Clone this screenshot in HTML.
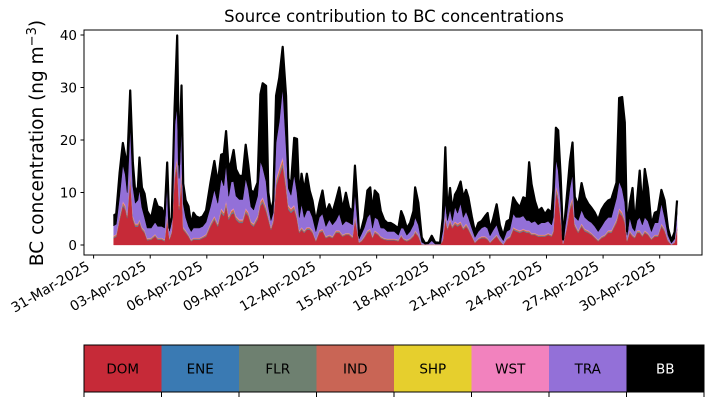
<!DOCTYPE html>
<html><head><meta charset="utf-8">
<style>
html,body{margin:0;padding:0;background:#fff;}
svg{display:block;font-family:"DejaVu Sans","Liberation Sans",sans-serif;}
</style></head>
<body>
<svg id="chart" width="714" height="402" viewBox="0 0 714 402" xmlns="http://www.w3.org/2000/svg">
<text x="394" y="22" text-anchor="middle" font-size="16.5" fill="#000">Source contribution to BC concentrations</text>
<text transform="translate(43,143) rotate(-90)" text-anchor="middle" font-size="18.5" fill="#000">BC concentration (ng m<tspan dy="-7" font-size="13">−3</tspan><tspan dy="7">)</tspan></text>
<g id="areas"></g>
<g id="axes"></g>
<g id="legend"></g>
</svg>
<script>
const days = [1.06,1.20,1.38,1.55,1.68,1.78,1.94,2.08,2.21,2.35,2.43,2.56,2.70,2.84,3.05,3.26,3.40,3.61,3.76,3.90,4.02,4.14,4.29,4.43,4.53,4.66,4.75,4.88,5.03,5.17,5.29,5.43,5.61,5.78,5.96,6.19,6.40,6.58,6.76,6.90,7.02,7.16,7.29,7.42,7.55,7.72,7.90,8.06,8.20,8.34,8.48,8.69,8.84,8.96,9.14,9.26,9.40,9.52,9.67,9.84,10.02,10.20,10.32,10.46,10.63,10.78,10.90,11.02,11.16,11.30,11.45,11.60,11.78,11.96,12.13,12.31,12.49,12.66,12.84,13.02,13.19,13.37,13.54,13.72,13.85,13.95,14.07,14.20,14.34,14.51,14.66,14.78,14.90,15.08,15.22,15.40,15.57,15.75,15.93,
16.15,16.30,16.42,16.60,16.77,16.95,17.04,17.21,17.39,17.57,17.74,17.92,18.10,18.36,18.50,18.64,18.75,18.89,19.01,19.15,19.29,19.45,19.59,19.74,19.86,20.04,20.21,20.39,20.56,20.74,20.88,21.01,21.18,21.36,21.53,21.71,21.89,22.06,22.24,22.38,22.59,22.77,22.95,23.08,23.21,23.39,23.56,23.74,23.92,24.09,24.27,24.36,24.50,24.62,24.75,24.88,25.06,25.24,25.38,25.50,25.68,25.86,26.03,26.21,26.39,26.56,26.74,26.92,27.09,27.27,27.44,27.71,27.85,28.01,28.15,28.27,28.41,28.56,28.68,28.80,28.94,29.08,29.21,29.38,29.56,29.74,29.91,30.09,30.26,30.44,30.62,30.79,30.92];
const dom = [1.3,1.6,4.8,7.4,6.7,5.1,12.5,4.8,3.5,3.5,4.2,2.9,2.3,0.9,1.0,1.6,1.0,1.0,0.7,4.8,1.0,2.3,12.5,15.0,6.7,13.1,2.9,2.3,1.6,0.7,1.0,1.0,1.0,1.3,1.6,3.5,4.8,3.5,6.1,5.5,7.4,4.8,5.8,6.1,4.8,4.2,4.2,6.1,5.5,3.9,3.5,4.8,7.4,8.0,6.4,4.8,2.9,4.2,11.2,13.1,15.0,10.5,6.7,6.1,6.7,4.8,2.3,2.9,2.3,2.9,2.9,2.3,0.7,2.3,2.6,1.3,1.6,1.3,2.3,2.3,1.6,1.9,1.9,1.3,4.8,2.9,0.4,0.7,1.3,2.3,2.6,1.3,2.3,1.9,1.3,1.0,0.9,0.9,0.9,
0.7,1.6,1.0,0.7,1.0,1.6,2.3,1.6,0.05,0.05,0.05,0.05,0.05,0.05,0.7,4.8,2.9,4.2,3.2,3.9,3.5,3.9,2.9,3.5,2.9,1.6,0.4,1.0,1.3,1.3,1.0,0.4,1.0,1.6,0.7,0.05,1.0,1.3,2.9,2.6,2.3,2.6,2.3,2.3,1.9,1.9,1.6,1.6,1.6,1.9,1.6,2.3,9.9,8.6,4.8,0.2,2.9,6.7,8.0,3.5,2.3,3.5,2.6,2.3,1.9,1.3,0.7,1.3,1.6,2.3,2.3,4.2,6.1,5.5,4.2,0.7,2.3,1.6,1.3,2.3,2.3,1.6,2.3,1.9,1.0,1.6,1.6,3.5,2.6,0.7,0.05,0.4,2.9];
const tra = [1.9,1.9,3.8,7.0,5.8,4.2,8.9,5.7,3.9,4.5,5.7,3.8,2.5,2.0,1.9,2.3,2.2,2.2,2.2,6.4,1.3,1.9,8.9,9.6,5.1,8.3,4.5,2.5,1.6,1.6,1.9,1.9,1.9,1.9,2.3,3.2,5.1,3.9,5.7,5.0,7.0,3.8,5.4,5.1,3.8,3.8,3.8,5.7,4.4,2.8,2.6,3.8,7.6,5.7,4.8,1.9,1.3,1.3,7.0,8.9,13.3,7.1,3.2,2.5,5.8,4.5,2.5,4.5,2.5,3.2,3.2,2.5,1.6,2.5,2.9,1.9,2.9,2.2,1.9,3.2,1.9,2.3,2.0,2.2,4.5,2.6,0.6,1.2,1.6,2.5,2.9,1.6,2.5,2.6,1.6,1.9,1.4,1.4,1.4,
0.9,1.3,1.9,0.9,1.3,1.9,2.5,1.9,0.4,0.1,0.1,0.7,0.1,0.1,1.6,2.6,1.3,1.9,1.0,2.8,2.0,3.5,1.9,2.3,1.9,1.3,0.9,1.3,1.6,1.9,1.9,1.2,1.6,1.9,0.9,0.7,1.3,1.3,2.6,2.2,2.5,2.5,1.9,1.9,2.0,2.3,1.9,2.3,2.3,2.3,1.9,2.5,5.1,4.5,2.6,0.5,1.9,3.2,4.5,1.3,1.9,2.6,2.2,1.9,2.0,1.9,1.6,1.9,2.6,2.5,2.5,4.1,5.1,4.4,3.2,0.9,2.5,1.3,1.0,1.9,2.5,1.9,2.5,2.3,1.3,2.3,2.3,3.9,2.2,0.9,0.3,0.6,2.6];
const bb = [1.9,2.0,4.5,4.1,3.5,5.1,6.7,4.5,1.9,2.5,6.1,3.8,4.5,3.2,1.9,4.4,3.8,3.5,2.2,3.8,0.6,0.6,3.2,13.7,2.6,7.6,3.8,3.2,3.8,1.2,2.9,2.2,1.9,1.9,2.2,4.5,5.4,3.8,4.5,6.1,6.3,5.1,3.8,6.0,5.1,4.5,4.5,6.4,4.5,3.2,3.2,2.6,12.7,16.0,18.2,2.6,1.6,2.2,8.9,8.3,7.7,9.5,1.9,1.9,7.0,10.2,3.8,5.7,5.1,7.0,3.8,3.2,1.9,2.6,4.4,2.6,2.9,2.3,3.8,5.0,2.9,5.4,2.8,2.6,5.1,3.8,0.6,1.0,1.9,5.1,5.0,3.2,5.1,4.8,3.2,1.6,1.6,1.6,1.2,
1.3,3.2,2.2,1.3,1.6,2.6,5.7,4.2,0.9,0.1,0.3,0.9,0.3,0.2,2.5,10.5,1.3,4.1,1.9,2.3,4.4,4.1,3.8,4.1,3.8,2.2,1.0,1.6,1.3,1.9,2.9,1.3,2.2,3.9,1.9,0.9,1.9,1.9,3.1,2.9,1.9,3.5,4.1,11.1,7.3,3.8,2.6,2.8,1.6,2.2,2.3,5.1,6.0,7.6,5.1,0.3,3.2,5.1,6.0,3.8,2.8,5.1,3.8,3.2,2.8,2.6,2.2,3.2,3.2,3.2,3.5,2.9,15.9,17.5,15.3,0.7,2.6,7.6,1.2,3.8,8.9,3.2,9.2,6.3,1.2,1.9,2.2,2.5,3.2,1.3,0.4,1.3,2.5];
const ene = [0.08,0.08,0.12,0.15,0.14,0.12,0.2,0.12,0.1,0.1,0.1,0.08,0.08,0.06,0.06,0.08,0.06,0.06,0.06,0.12,0.06,0.08,0.2,0.25,0.14,0.22,0.08,0.08,0.06,0.05,0.06,0.06,0.06,0.06,0.08,0.1,0.12,0.1,0.14,0.12,0.15,0.12,0.14,0.14,0.12,0.1,0.1,0.14,0.12,0.1,0.1,0.12,0.15,0.16,0.14,0.12,0.08,0.1,0.2,0.22,0.25,0.2,0.14,0.14,0.14,0.12,0.08,0.08,0.08,0.08,0.08,0.08,0.05,0.08,0.08,0.06,0.06,0.06,0.08,0.08,0.06,0.06,0.06,0.06,0.12,0.08,0.03,0.04,0.06,0.08,0.08,0.06,0.08,0.06,0.06,0.05,0.05,0.05,0.05,
0.05,0.06,0.05,0.05,0.05,0.06,0.08,0.06,0.02,0.01,0.01,0.02,0.01,0.01,0.05,0.12,0.08,0.1,0.08,0.1,0.1,0.1,0.08,0.1,0.08,0.06,0.03,0.05,0.06,0.06,0.05,0.03,0.05,0.06,0.05,0.02,0.05,0.06,0.08,0.08,0.08,0.08,0.08,0.08,0.06,0.06,0.06,0.06,0.06,0.06,0.06,0.08,0.2,0.18,0.12,0.02,0.08,0.14,0.16,0.1,0.08,0.1,0.08,0.08,0.06,0.06,0.05,0.06,0.06,0.08,0.08,0.1,0.14,0.12,0.1,0.05,0.08,0.06,0.06,0.08,0.08,0.06,0.08,0.06,0.05,0.06,0.06,0.1,0.08,0.05,0.01,0.03,0.08];
const flr = ene.map(v => +(v * 0.8).toFixed(3));
const ind = [0.2,0.2,0.3,0.4,0.4,0.3,0.6,0.3,0.25,0.25,0.3,0.2,0.2,0.15,0.15,0.2,0.15,0.15,0.15,0.3,0.15,0.2,0.6,0.7,0.4,0.6,0.2,0.2,0.15,0.12,0.15,0.15,0.15,0.15,0.2,0.25,0.3,0.25,0.4,0.35,0.45,0.3,0.35,0.4,0.3,0.3,0.3,0.4,0.35,0.25,0.25,0.3,0.45,0.5,0.4,0.3,0.2,0.3,0.6,0.7,0.8,0.6,0.4,0.4,0.4,0.3,0.2,0.2,0.2,0.2,0.2,0.2,0.12,0.2,0.2,0.15,0.15,0.15,0.2,0.2,0.15,0.15,0.15,0.15,0.3,0.2,0.08,0.1,0.15,0.2,0.2,0.15,0.2,0.15,0.15,0.12,0.12,0.12,0.12,
0.12,0.15,0.12,0.12,0.12,0.15,0.2,0.15,0.04,0.02,0.02,0.04,0.02,0.02,0.12,0.3,0.2,0.3,0.2,0.25,0.25,0.25,0.2,0.25,0.2,0.15,0.08,0.12,0.15,0.15,0.12,0.08,0.12,0.15,0.12,0.04,0.12,0.15,0.2,0.2,0.2,0.2,0.2,0.2,0.15,0.15,0.15,0.15,0.15,0.15,0.15,0.2,0.6,0.5,0.3,0.04,0.2,0.4,0.45,0.25,0.2,0.25,0.2,0.2,0.15,0.15,0.12,0.15,0.15,0.2,0.2,0.3,0.4,0.35,0.3,0.12,0.2,0.15,0.15,0.2,0.2,0.15,0.2,0.15,0.12,0.15,0.15,0.25,0.2,0.12,0.02,0.08,0.2];
const shp = ene.map(v => +(v * 0.4).toFixed(3));
const wst = ind.map(v => +(v * 0.5).toFixed(3));
const yTicks = [0,10,20,30,40];
const xTickDays = [0,3,6,9,12,15,18,21,24,27,30];
const xTickLabels = ["31-Mar-2025","03-Apr-2025","06-Apr-2025","09-Apr-2025","12-Apr-2025","15-Apr-2025","18-Apr-2025","21-Apr-2025","24-Apr-2025","27-Apr-2025","30-Apr-2025"];
const sourceNames = ["DOM","ENE","FLR","IND","SHP","WST","TRA","BB"];
const sourceColors = ["#c62a38","#3a7ab3","#6e8070","#c96555","#e6cf2d","#f282be","#9370d8","#000000"];

const NS = "http://www.w3.org/2000/svg";
const PL = 84, PR = 702, PT = 30, PB = 255;
function xs(d){ return 93.6 + 18.87 * d; }
function ys(v){ return 245 - 5.25 * v; }
function mk(tag, attrs, parent){ const e = document.createElementNS(NS, tag); for (const k in attrs) e.setAttribute(k, attrs[k]); parent.appendChild(e); return e; }

const series = [dom, ene, flr, ind, shp, wst, tra, bb];
const areas = document.getElementById('areas');
let base = days.map(() => 0);
series.forEach((s, si) => {
  const top = base.map((b, i) => b + s[i]);
  let d = "M" + days.map((t, i) => xs(t).toFixed(2) + "," + ys(top[i]).toFixed(2)).join("L");
  for (let i = days.length - 1; i >= 0; i--) d += "L" + xs(days[i]).toFixed(2) + "," + ys(base[i]).toFixed(2);
  d += "Z";
  const p = mk('path', {d: d, fill: sourceColors[si], stroke: sourceColors[si], 'stroke-width': si === 7 ? 0.6 : 0.3, 'stroke-linejoin': 'round'}, areas);
  
  
  base = top;
});
const tl = mk('polyline', {points: days.map((t, i) => xs(t).toFixed(2) + "," + ys(base[i]).toFixed(2)).join(" "), fill: "none", stroke: "#000", 'stroke-width': 2.2, 'stroke-linejoin': 'round'}, areas);



const axes = document.getElementById('axes');
const frame = mk('rect', {x: PL, y: PT, width: PR - PL, height: PB - PT, fill: "none", stroke: "#000", 'stroke-width': 1}, axes);


yTicks.forEach(v => {
  const y = ys(v);
  const tk = mk('line', {x1: PL - 3.5, x2: PL, y1: y, y2: y, stroke: "#000", 'stroke-width': 1}, axes);
  
  
  const lb = mk('text', {x: PL - 7, y: y + 5, 'text-anchor': 'end', 'font-size': 13.5, fill: '#000'}, axes);
  lb.textContent = v;
  
  
});
xTickDays.forEach((dd, i) => {
  const x = xs(dd);
  const tk = mk('line', {x1: x, x2: x, y1: PB, y2: PB + 3.5, stroke: "#000", 'stroke-width': 1}, axes);
  
  
  const lb = mk('text', {x: 0, y: 0, 'text-anchor': 'end', 'font-size': 13.8, fill: '#000', transform: 'translate(' + (x - 3) + ',' + (PB + 14) + ') rotate(-30)'}, axes);
  lb.textContent = xTickLabels[i];
  
  
});

const legend = document.getElementById('legend');
const LX = 84, LW = 620, LY = 345, LH = 47, segW = LW / sourceNames.length;
sourceNames.forEach((n, i) => {
  const r = mk('rect', {x: LX + i * segW, y: LY, width: segW, height: LH, fill: sourceColors[i]}, legend);
  
  
  const t = mk('text', {x: LX + (i + 0.5) * segW, y: LY + LH / 2 + 5, 'text-anchor': 'middle', 'font-size': 13.5, fill: n === 'BB' ? '#fff' : '#000'}, legend);
  t.textContent = n;
  
  
});
for (let i = 0; i <= sourceNames.length; i++) {
  const x = LX + i * segW;
  const tk = mk('line', {x1: x, x2: x, y1: LY + LH, y2: LY + LH + 5, stroke: '#000', 'stroke-width': 1}, legend);
  
  
}
const lf = mk('rect', {x: LX, y: LY, width: LW, height: LH, fill: 'none', stroke: '#000', 'stroke-width': 1}, legend);


</script>
</body></html>
